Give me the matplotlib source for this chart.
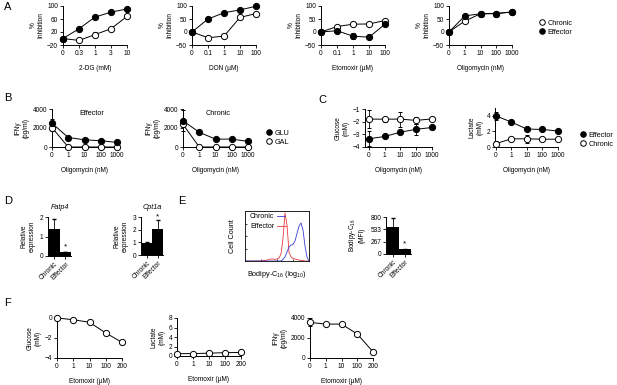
import matplotlib
matplotlib.use('Agg')
import matplotlib.pyplot as plt
from matplotlib.lines import Line2D

plt.rcParams['font.family'] = ['Liberation Sans', 'DejaVu Sans']
plt.rcParams['mathtext.default'] = 'regular'
plt.rcParams['font.size'] = 4.7

# ---- data ----
dg_labels = ['0', '0.3', '1', '3', '10']
dg_eff = [0, 30, 66, 81, 91]
dg_chr = [0, -6, 12, 30, 68]
dg_chr_err = [0, 4, 8, 4, 4]

don_labels = ['0', '0.1', '1', '10', '100']
don_eff = [0, 50, 74, 85, 99]
don_chr = [0, -22, -16, 56, 71]
don_chr_err = [0, 6, 4, 4, 5]

eto_labels = ['0', '0.1', '1', '10', '100']
eto_eff = [0, 5, -16, -20, 30]
eto_eff_err = [0, 5, 12, 4, 5]
eto_chr = [0, 21, 30, 31, 44]
eto_chr_err = [0, 5, 8, 3, 4]

oli_labels = ['0', '1', '10', '100', '1000']
oli_eff = [0, 62, 70, 71, 77]
oli_chr = [0, 42, 70, 71, 77]

ifn_eff_glu = [2500, 1000, 760, 660, 480]
ifn_eff_glu_err = [500, 100, 100, 80, 80]
ifn_eff_gal = [2030, 0, 0, 0, 0]
ifn_chr_glu = [2760, 1550, 830, 830, 590]
ifn_chr_glu_err = [1100, 150, 100, 100, 100]
ifn_chr_gal = [2380, 0, 0, 0, 0]

glc_eff = [-3.35, -3.17, -2.83, -2.6, -2.46]
glc_eff_err = [0.6, 0.1, 0.15, 0.45, 0.1]
glc_chr = [-1.8, -1.8, -1.8, -1.9, -1.78]
glc_chr_err = [0.7, 0.2, 0.6, 0.25, 0.1]
lac_eff = [4.0, 3.2, 2.3, 2.25, 2.05]
lac_eff_err = [0.5, 0.1, 0.1, 0.1, 0.1]
lac_chr = [0.43, 1.05, 1.05, 1.0, 1.0]
lac_chr_err = [0.4, 0.2, 0.5, 0.2, 0.15]

groups = ['Chronic', 'Effector']
fatp4 = [1.38, 0.18]
fatp4_err = [0.5, 0.0]
cpt1a = [0.97, 2.07]
cpt1a_err = [0.05, 0.7]
mfi = [588, 106]
mfi_err = [200, 10]

hist_x = [i * 0.125 for i in range(33)]
hist_eff = [0, 0, 0, 0, 0, 0, 0, 0, 0, 1, 1, 2, 3, 4, 4, 3, 4, 6, 14, 45, 96, 72,
            18, 8, 5, 4, 3, 2, 1, 1, 0, 0, 0]
hist_chr = [0, 0, 0, 0, 0, 0, 0, 0, 0, 0, 0, 0, 0, 0, 0, 0, 0, 0, 0, 3, 8, 18,
            28, 32, 33, 40, 55, 70, 76, 62, 30, 8, 0]

eto2_labels = ['0', '1', '10', '100', '200']
f_glc = [0, -0.17, -0.43, -1.5, -2.43]
f_glc_err = [0.05, 0.1, 0.15, 0.15, 0.2]
f_lac = [0.5, 0.5, 0.6, 0.7, 0.75]
f_lac_err = [0.1, 0.1, 0.1, 0.1, 0.1]
f_ifn = [3560, 3390, 3390, 2400, 620]
f_ifn_err = [400, 150, 150, 150, 150]

W, H = 617, 385
fig = plt.figure(figsize=(W / 100, H / 100), dpi=100)


def px_axes(x0, y0, x1, y1):
    return fig.add_axes([x0 / W, 1 - y1 / H, (x1 - x0) / W, (y1 - y0) / H])


def style(ax):
    for s in ['top', 'right']:
        ax.spines[s].set_visible(False)
    for s in ['left', 'bottom']:
        ax.spines[s].set_linewidth(0.7)
    ax.tick_params(direction='out', length=2, width=0.6, pad=1.5, labelsize=4.7)


def dose(ax, labels, series, xmin=0):
    x = list(range(len(labels)))
    for y, err, filled in series:
        c = ax.errorbar(x, y, yerr=err, color='black', lw=0.7, marker='o', ms=4.5,
                        mfc='black' if filled else 'white', mec='black', mew=0.7,
                        capsize=1.5, elinewidth=0.6, zorder=3)
        for art in c.get_children():
            art.set_clip_on(False)
    ax.set_xticks(x)
    ax.set_xticklabels(labels)
    ax.set_xlim(xmin, len(labels) - 1)
    style(ax)


def bars(ax, vals, errs, ymax, yticks, stars):
    ax.bar([0, 1], vals, width=1, color='black', yerr=errs,
           error_kw=dict(ecolor='black', elinewidth=0.6, capsize=1.5), zorder=2)
    ax.set_xlim(-0.55, 1.5)
    ax.set_ylim(0, ymax)
    ax.set_yticks(yticks)
    ax.set_xticks([0, 1])
    ax.set_xticklabels(groups, rotation=45, ha='right', rotation_mode='anchor')
    style(ax)
    for xs, ys in stars:
        ax.text(xs, ys, '*', ha='center', va='center', fontsize=6)


small = [2] * 5
XPAD = 6

# ---- A ----
a1 = px_axes(63, 6, 127, 45)
dose(a1, dg_labels, [(dg_chr, dg_chr_err, False), (dg_eff, small, True)])
a1.set_ylim(-20, 100); a1.set_yticks([-20, 20, 60, 100])
a1.set_xlabel('2-DG (mM)', labelpad=XPAD)
a1.set_ylabel('%\nInhibition', labelpad=2)

a2 = px_axes(192, 6, 256, 45)
dose(a2, don_labels, [(don_chr, don_chr_err, False), (don_eff, small, True)])
a2.set_ylim(-50, 100); a2.set_yticks([-50, 0, 50, 100])
a2.set_xlabel('DON (\u00b5M)', labelpad=XPAD)
a2.set_ylabel('%\nInhibition', labelpad=2)

a3 = px_axes(321, 6, 385, 45)
dose(a3, eto_labels, [(eto_chr, eto_chr_err, False), (eto_eff, eto_eff_err, True)])
a3.set_ylim(-50, 100); a3.set_yticks([-50, 0, 50, 100])
a3.set_xlabel('Etomoxir (\u00b5M)', labelpad=XPAD)
a3.set_ylabel('%\nInhibition', labelpad=2)

a4 = px_axes(449, 6, 512, 45)
dose(a4, oli_labels, [(oli_chr, small, False), (oli_eff, small, True)])
a4.set_ylim(-50, 100); a4.set_yticks([-50, 0, 50, 100])
a4.set_xlabel('Oligomycin (nM)', labelpad=XPAD)
a4.set_ylabel('%\nInhibition', labelpad=2)

h_open = Line2D([], [], ls='none', marker='o', ms=4, mfc='white', mec='black', mew=0.7)
h_fill = Line2D([], [], ls='none', marker='o', ms=4, mfc='black', mec='black', mew=0.7)
fig.legend([h_open, h_fill], ['Chronic', 'Effector'], loc='upper left',
           bbox_to_anchor=(535 / W, 1 - 16 / H), frameon=False, handlelength=0.8,
           handletextpad=0.4, labelspacing=0.3, fontsize=5.2, borderpad=0)

# ---- B ----
b1 = px_axes(52, 109, 117, 147)
dose(b1, oli_labels, [(ifn_eff_gal, [300, 0, 0, 0, 0], False), (ifn_eff_glu, ifn_eff_glu_err, True)])
b1.set_ylim(0, 4000); b1.set_yticks([0, 2000, 4000])
b1.set_xlabel('Oligomycin (nM)', labelpad=XPAD)
b1.set_ylabel('IFN\u03b3\n(pg/ml)', labelpad=2)
b1.text(0.62, 0.87, 'Effector', transform=b1.transAxes, fontsize=5.2, ha='center', va='center')

b2 = px_axes(183, 109, 248, 147)
dose(b2, oli_labels, [(ifn_chr_gal, [300, 0, 0, 0, 0], False), (ifn_chr_glu, ifn_chr_glu_err, True)])
b2.set_ylim(0, 4000); b2.set_yticks([0, 2000, 4000])
b2.set_xlabel('Oligomycin (nM)', labelpad=XPAD)
b2.set_ylabel('IFN\u03b3\n(pg/ml)', labelpad=2)
b2.text(0.54, 0.87, 'Chronic', transform=b2.transAxes, fontsize=5.2, ha='center', va='center')

fig.legend([h_fill, h_open], ['GLU', 'GAL'], loc='upper left',
           bbox_to_anchor=(262 / W, 1 - 126 / H), frameon=False, handlelength=0.8,
           handletextpad=0.4, labelspacing=0.3, fontsize=5.2, borderpad=0)

# ---- C ----
c1 = px_axes(365, 109, 432, 147)
dose(c1, oli_labels, [(glc_eff, glc_eff_err, True), (glc_chr, glc_chr_err, False)], xmin=-0.25)
c1.set_ylim(-4, -1); c1.set_yticks([-4, -3, -2, -1])
c1.set_xlabel('Oligomycin (nM)', labelpad=XPAD)
c1.set_ylabel('Glucose\n(mM)', labelpad=2)

c2 = px_axes(495, 108, 558, 147)
dose(c2, oli_labels, [(lac_eff, lac_eff_err, True), (lac_chr, lac_chr_err, False)], xmin=-0.05)
c2.set_ylim(0, 5); c2.set_yticks([0, 2, 4])
c2.set_xlabel('Oligomycin (nM)', labelpad=XPAD)
c2.set_ylabel('Lactate\n(mM)', labelpad=2)

fig.legend([h_fill, h_open], ['Effector', 'Chronic'], loc='upper left',
           bbox_to_anchor=(576 / W, 1 - 128 / H), frameon=False, handlelength=0.8,
           handletextpad=0.4, labelspacing=0.3, fontsize=5.2, borderpad=0)

# ---- D ----
d1 = px_axes(48, 217, 71, 256)
bars(d1, fatp4, fatp4_err, 2, [0, 1, 2], [(1, 0.45)])
d1.set_ylabel('Relative\nexpression', labelpad=3)
d1.set_title('Fatp4', fontsize=5.2, style='italic', pad=6)

d2 = px_axes(141, 217, 163, 255)
bars(d2, cpt1a, cpt1a_err, 3, [0, 1, 2, 3], [(1, 3.0)])
d2.set_ylabel('Relative\nexpression', labelpad=3)
d2.set_title('Cpt1a', fontsize=5.2, style='italic', pad=6)

# ---- E ----
e1 = px_axes(245, 211, 309, 261)
e1.plot(hist_x, hist_eff, color='#e8383d', lw=0.6)
e1.plot(hist_x, hist_chr, color='#3b3bd6', lw=0.6)
e1.set_xlim(0, 4); e1.set_ylim(0, 100)
e1.set_xticks([1, 2, 3]); e1.set_xticklabels([])
e1.set_yticks([25, 50, 75]); e1.set_yticklabels([])
e1.tick_params(direction='in', length=1.5, width=0.5)
for s in e1.spines.values():
    s.set_linewidth(0.6)
e1.set_xlabel('Bodipy-C$_{16}$ (log$_{10}$)', labelpad=2, fontsize=5.2)
e1.set_ylabel('Cell Count', labelpad=3, fontsize=5.2)
e1.text(0.08, 0.9, 'Chronic', transform=e1.transAxes, fontsize=5, va='center')
e1.plot([0.5, 0.62], [0.9, 0.9], transform=e1.transAxes, color='#3b3bd6', lw=0.6)
e1.text(0.08, 0.7, 'Effector', transform=e1.transAxes, fontsize=5, va='center')
e1.plot([0.5, 0.64], [0.7, 0.7], transform=e1.transAxes, color='#e8383d', lw=0.6)

e2 = px_axes(386, 217, 411, 254)
bars(e2, mfi, mfi_err, 800, [0, 267, 533, 800], [(1, 210)])
e2.set_ylabel('Bodipy-C$_{16}$\n(MFI)', labelpad=3)

# ---- F ----
f1 = px_axes(57, 318, 122, 358)
dose(f1, eto2_labels, [(f_glc, f_glc_err, False)])
f1.set_ylim(-4, 0); f1.set_yticks([-4, -2, 0])
f1.set_xlabel('Etomoxir (\u00b5M)', labelpad=XPAD)
f1.set_ylabel('Glucose\n(mM)', labelpad=2)

f2 = px_axes(177, 318, 241, 356)
dose(f2, eto2_labels, [(f_lac, f_lac_err, False)])
f2.set_ylim(0, 8); f2.set_yticks([0, 2, 4, 6, 8])
f2.set_xlabel('Etomoxir (\u00b5M)', labelpad=XPAD)
f2.set_ylabel('Lactate\n(mM)', labelpad=2)

f3 = px_axes(310, 318, 373, 358)
dose(f3, eto2_labels, [(f_ifn, f_ifn_err, False)])
f3.set_ylim(0, 4000); f3.set_yticks([0, 2000, 4000])
f3.set_xlabel('Etomoxir (\u00b5M)', labelpad=XPAD)
f3.set_ylabel('IFN\u03b3\n(pg/ml)', labelpad=2)

# panel letters
for lab, x, y in [('A', 4, 7), ('B', 4, 98), ('C', 318, 100), ('D', 4, 201),
                  ('E', 178, 201), ('F', 4, 303)]:
    fig.text(x / W, 1 - y / H, lab, fontsize=8, va='center', ha='left')

fig.savefig('out.png', dpi=100)
